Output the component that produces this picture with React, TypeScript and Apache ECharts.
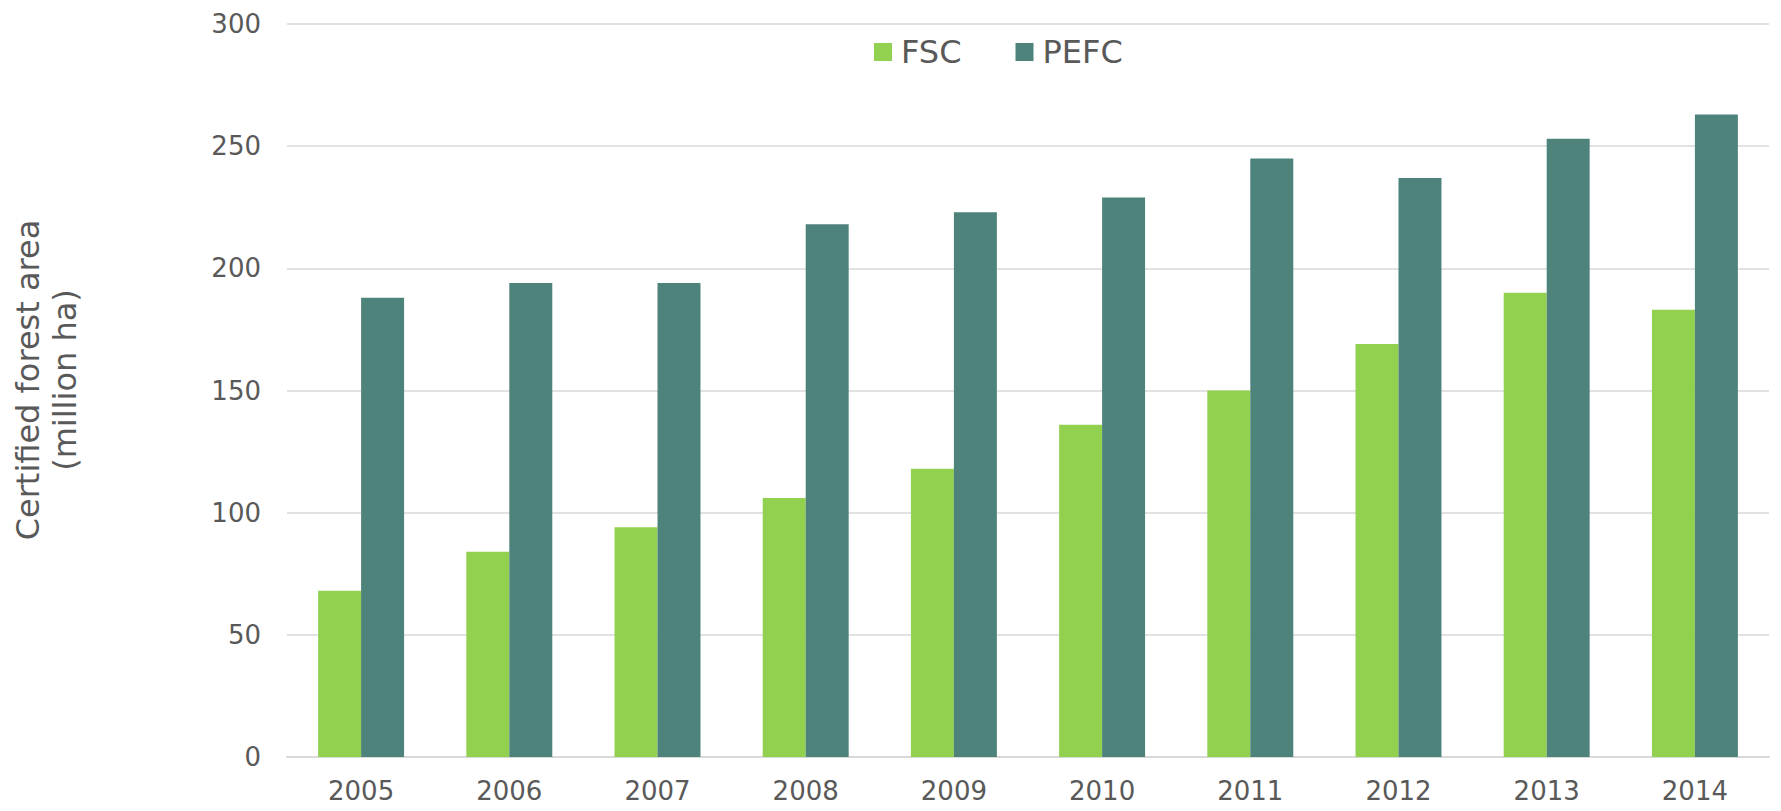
import React, { useEffect, useRef } from "react";
import * as echarts from "echarts";

const years = ["2005", "2006", "2007", "2008", "2009", "2010", "2011", "2012", "2013", "2014"];
const fsc = [68, 84, 94, 106, 118, 136, 150, 169, 190, 183];
const pefc = [188, 194, 194, 218, 223, 229, 245, 237, 253, 263];
const yTitle = ["Certified forest area", "(million ha)"];

const TEXT = "#595959";
const FONT = "'DejaVu Sans', Verdana, sans-serif";

export default function App() {
  const ref = useRef<HTMLDivElement>(null);
  useEffect(() => {
    if (!ref.current) return;
    const chart = echarts.init(ref.current, undefined, { renderer: "svg" });
    chart.setOption({
      animation: false,
      backgroundColor: "#ffffff",
      textStyle: { fontFamily: FONT },
      grid: { left: 287, right: 12, top: 24, bottom: 54, containLabel: false },
      legend: {
        top: 31,
        left: 869,
        itemWidth: 18,
        itemHeight: 18,
        itemGap: 54,
        icon: "rect",
        textStyle: { fontSize: 32, color: TEXT, fontFamily: FONT, padding: [0, 0, 0, 4] },
        data: ["FSC", "PEFC"],
      },
      graphic: [
        {
          type: "text",
          x: 46,
          y: 380,
          rotation: Math.PI / 2,
          style: {
            text: yTitle.join("\n"),
            fill: TEXT,
            font: `32px ${FONT}`,
            align: "center",
            verticalAlign: "middle",
            lineHeight: 37,
          },
        },
      ],
      xAxis: {
        type: "category",
        data: years,
        axisLine: { lineStyle: { color: "#d9d9d9", width: 2 } },
        axisTick: { show: false },
        axisLabel: { color: TEXT, fontSize: 26, margin: 21, fontFamily: FONT },
      },
      yAxis: {
        type: "value",
        min: 0,
        max: 300,
        interval: 50,
        axisLine: { show: false },
        axisTick: { show: false },
        splitLine: { lineStyle: { color: "#d9d9d9", width: 1.5 } },
        axisLabel: { color: TEXT, fontSize: 26, margin: 26, fontFamily: FONT },
      },
      series: [
        {
          name: "FSC",
          type: "bar",
          data: fsc,
          barGap: "0%",
          barCategoryGap: "42%",
          itemStyle: { color: "#92d050" },
        },
        {
          name: "PEFC",
          type: "bar",
          data: pefc,
          barGap: "0%",
          barCategoryGap: "42%",
          itemStyle: { color: "#4e837c" },
        },
      ],
    });
    return () => chart.dispose();
  }, []);
  return (
    <div
      ref={ref}
      style={{ position: "fixed", left: 0, top: 0, width: 1781, height: 811, background: "#fff" }}
    />
  );
}
